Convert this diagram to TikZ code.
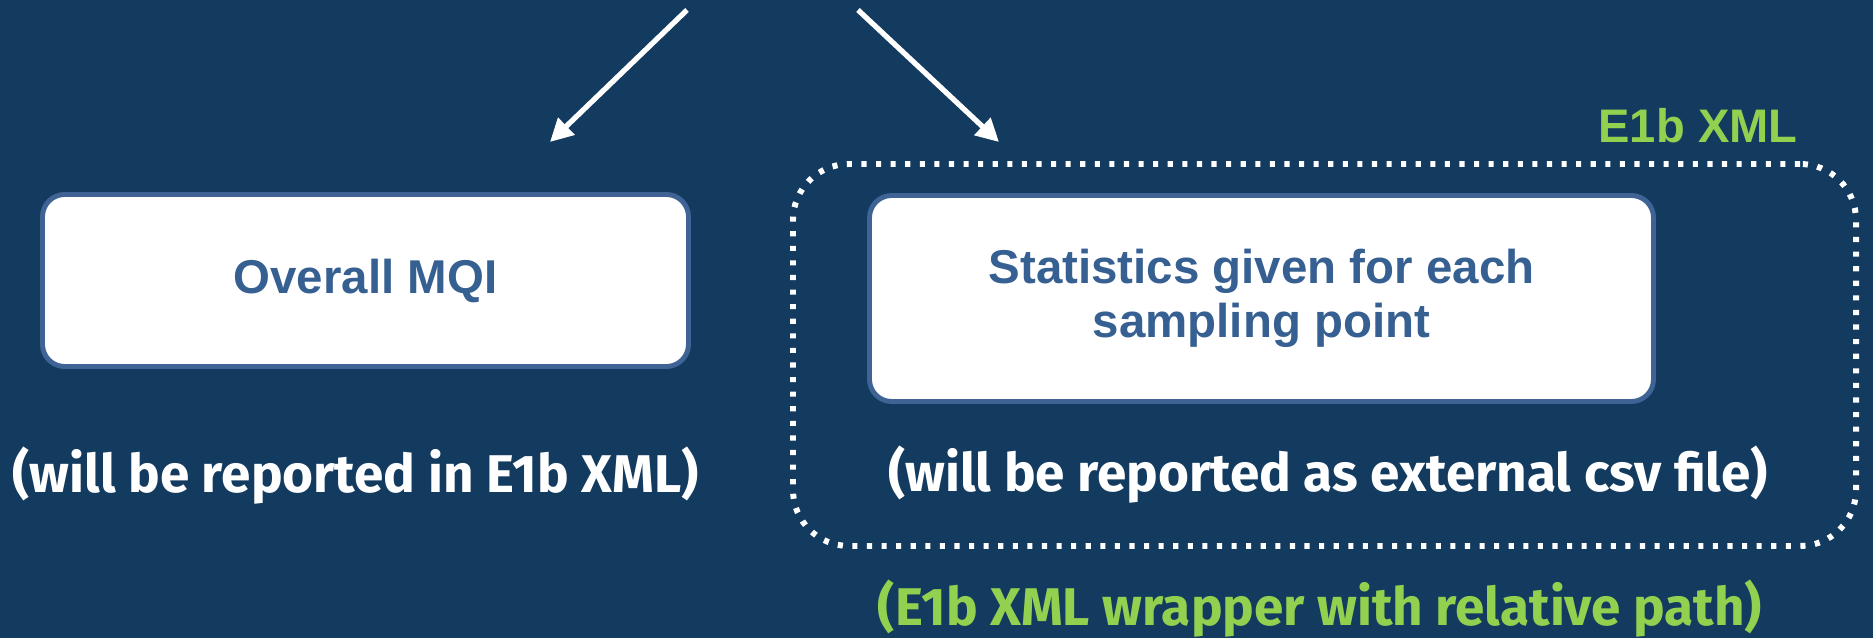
\documentclass[tikz,border=0pt]{standalone}
\usepackage{fontspec}
\setmainfont{Liberation Sans}
\newfontfamily\notefont{Fira Sans}
\usetikzlibrary{positioning}
\usetikzlibrary{arrows.meta}
\definecolor{slide}{HTML}{133A5F}
\definecolor{boxline}{HTML}{3F6394}
\definecolor{boxtext}{HTML}{376092}
\definecolor{xmlgreen}{HTML}{92D050}
\tikzset{
    resultBox/.style={
		draw=boxline, line width=1.4pt, fill=white, rounded corners=6.3pt,
		text=boxtext, align=center, inner sep=0pt,
		font=\fontsize{13.5}{15.2}\selectfont\bfseries
	}
}
\tikzset{
    note/.style={
		anchor=base, inner sep=0pt, text=white,
		font=\notefont\fontsize{15.1}{18}\selectfont\bfseries
	}
}
\tikzset{
    wrapperFrame/.style={
		draw=white, line width=1.7pt, dash pattern=on 1.45pt off 2.7pt,
		rounded corners=0.56cm, minimum width=10.63cm, minimum height=3.82cm
	}
}

\begin{document}
\begin{tikzpicture}
			\fill[slide] (0,0) rectangle (18.73,6.38);
			\useasboundingbox (0,0) rectangle (18.73,6.38);
			\node[wrapperFrame] (wrapper) at (13.245,2.83) {};
			\node[resultBox, minimum width=6.46cm, minimum height=1.72cm] (mqi) at (3.655,3.575) {Overall MQI};
			\node[resultBox, minimum width=7.84cm, minimum height=2.06cm] (stats) at (12.615,3.395) {Statistics given for each\\sampling point};
			\node[note] (mqiNote) at (3.555,1.45) {(will be reported in E1b XML)};
			\node[note] (statsNote) at (13.28,1.46) {(will be reported as external csv file)};
			\node[anchor=base, inner sep=0pt, text=xmlgreen, font=\fontsize{13.4}{16}\selectfont\bfseries] (xmlTag) at (16.98,4.95) {E1b XML};
			\node[note, text=xmlgreen] (wrapperNote) at (13.20,0.12) {(E1b XML wrapper with relative path)};
			\coordinate (srcL) at (6.87,6.28);
			\coordinate (srcR) at (8.58,6.28);
			\coordinate (tipL) at (5.50,4.96);
			\coordinate (tipR) at (9.99,4.96);
			\draw[white, line width=1.5pt, -{Triangle[length=6.5pt,width=6.5pt]}] (srcL) -- (tipL);
			\draw[white, line width=1.5pt, -{Triangle[length=6.5pt,width=6.5pt]}] (srcR) -- (tipR);
\end{tikzpicture}
\end{document}
